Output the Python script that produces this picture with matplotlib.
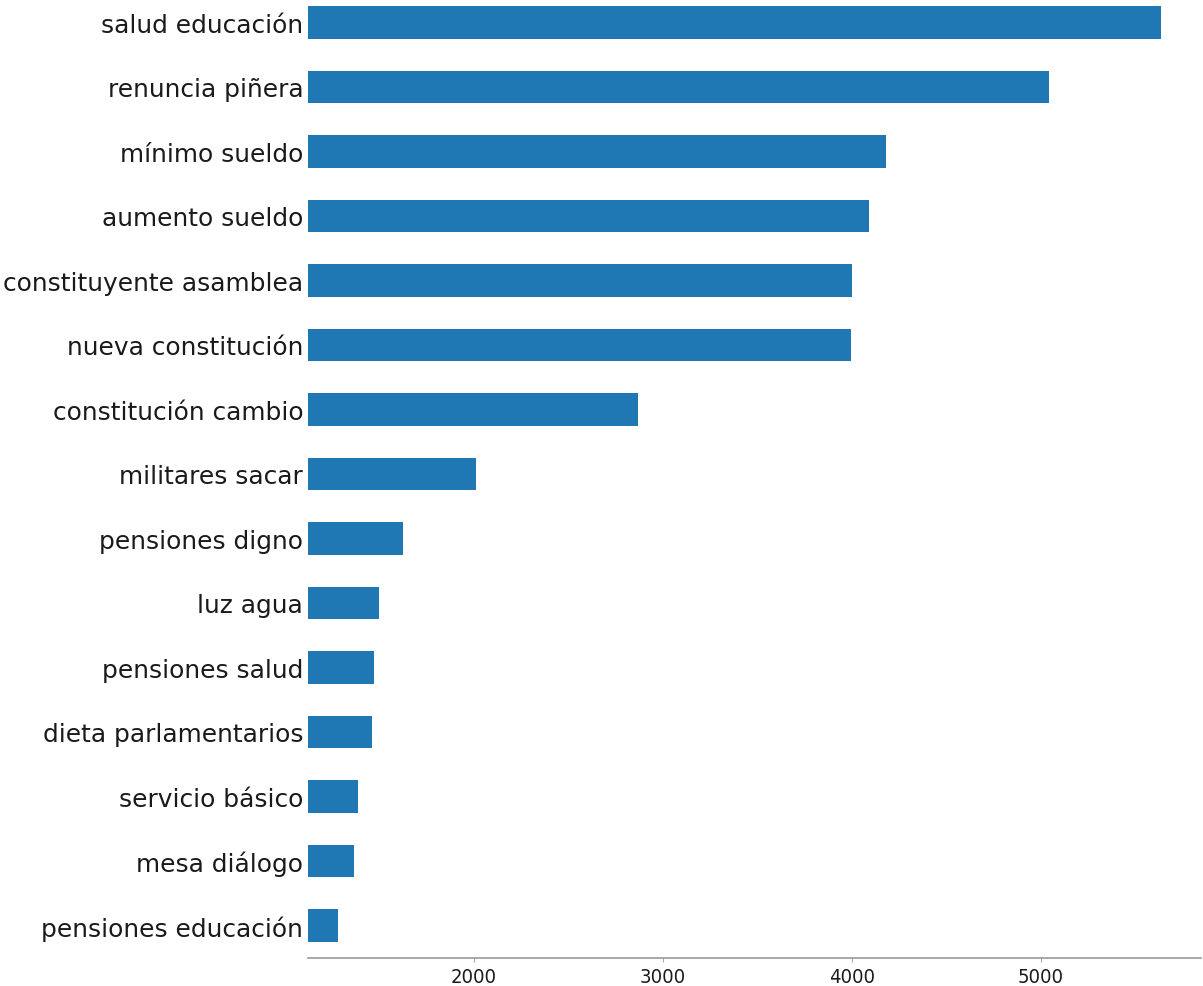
import matplotlib
matplotlib.use("Agg")
import matplotlib.pyplot as plt

# bigramas ordenados de menor a mayor (abajo -> arriba)
etiquetas = [
    "pensiones educación", "mesa diálogo", "servicio básico",
    "dieta parlamentarios", "pensiones salud", "luz agua",
    "pensiones digno", "militares sacar", "constitución cambio",
    "nueva constitución", "constituyente asamblea", "aumento sueldo",
    "mínimo sueldo", "renuncia piñera", "salud educación",
]
frecuencias = [1282, 1365, 1388, 1458, 1472, 1499, 1623, 2009, 2868,
               3994, 4000, 4093, 4183, 5046, 5638]
ticks_x = [2000, 3000, 4000, 5000]

W, H = 1203, 987
fig = plt.figure(figsize=(W / 100, H / 100), dpi=100)
ax = fig.add_axes([308 / W, (H - 958.7) / H, (1201 - 308) / W, (958.7 + 8.75) / H])

pos = list(range(len(etiquetas)))
ax.barh(pos, frecuencias, height=0.5, color="#1f77b4")
ax.set_xlim(1121, 5849)
ax.set_ylim(-0.5, len(etiquetas) - 0.5)

ax.set_yticks(pos)
ax.set_yticklabels(etiquetas, fontsize=17.9, color="#1a1a1a")
ax.tick_params(axis="y", length=0, pad=3.5)

ax.set_xticks(ticks_x)
ax.set_xticklabels([str(t) for t in ticks_x],
                   family=["Liberation Sans Narrow", "DejaVu Sans"],
                   stretch="condensed", fontsize=14.5, color="#1a1a1a")
ax.tick_params(axis="x", length=3, color="#aaaaaa", pad=4)

for s in ["top", "right", "left"]:
    ax.spines[s].set_visible(False)
ax.spines["bottom"].set_color("#999999")
ax.spines["bottom"].set_linewidth(1.2)

fig.savefig("out.png", dpi=100)
